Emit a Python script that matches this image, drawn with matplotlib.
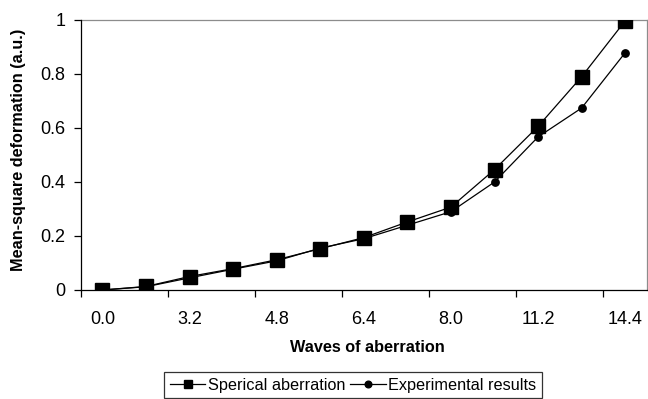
import matplotlib
matplotlib.use("Agg")
import matplotlib.pyplot as plt
import numpy as np

plt.rcParams['font.family'] = ['Liberation Sans', 'DejaVu Sans']

categories = ["0.0", "1.6", "3.2", "4.0", "4.8", "5.6", "6.4", "7.2", "8.0", "9.6", "11.2", "12.8", "14.4"]
spherical = [0.0, 0.013, 0.05, 0.079, 0.112, 0.153, 0.194, 0.252, 0.307, 0.446, 0.606, 0.79, 0.997]
experimental = [0.0, 0.012, 0.045, 0.077, 0.108, 0.155, 0.19, 0.24, 0.29, 0.40, 0.567, 0.674, 0.879]
y_ticks = [0, 0.2, 0.4, 0.6, 0.8, 1]
y_tick_labels = ["0", "0.2", "0.4", "0.6", "0.8", "1"]

W, H = 648, 399
fig = plt.figure(figsize=(W / 100, H / 100), dpi=100)
left, right, top, bottom = 80.6, 647, 20, 290
ax = fig.add_axes([left / W, 1 - bottom / H, (right - left) / W, (bottom - top) / H])

x = np.arange(len(categories))
ax.plot(x, spherical, color='black', lw=0.9, marker='s', ms=9.5, mfc='black', mec='black',
        label='Sperical aberration', zorder=3)
ax.plot(x, experimental, color='black', lw=0.9, marker='o', ms=5.3, mfc='black', mec='black',
        label='Experimental results', zorder=3)

ax.set_xlim(-0.5, len(categories) - 0.5)
ax.set_ylim(0, 1)

# tick marks at category boundaries, labels at every other category
ax.set_xticks(np.arange(-0.5, len(categories) - 1, 2))
ax.set_xticklabels([])
ax.set_xticks(x[::2], minor=True)
ax.set_xticklabels(categories[::2], minor=True)
ax.tick_params(axis='x', which='major', direction='out', length=5, width=0.9, color='black')
ax.tick_params(axis='x', which='minor', length=0, pad=15, labelsize=13)

ax.set_yticks(y_ticks)
ax.set_yticklabels(y_tick_labels)
ax.tick_params(axis='y', direction='out', length=5, width=0.9, pad=6, labelsize=13)

for s in ['left', 'bottom']:
    ax.spines[s].set_color('black')
    ax.spines[s].set_linewidth(0.9)
for s in ['top', 'right']:
    ax.spines[s].set_color('#8c8c8c')
    ax.spines[s].set_linewidth(0.9)
ax.spines['left'].set_zorder(4)
ax.spines['bottom'].set_zorder(4)

fig.text(367 / W, 1 - 348 / H, 'Waves of aberration', ha='center', va='center',
         fontsize=11.7, fontweight='bold')
fig.text(19 / W, 1 - 150 / H, 'Mean-square deformation (a.u.)', ha='center', va='center',
         rotation=90, fontsize=11.7, fontweight='bold')

leg = ax.legend(loc='upper left', bbox_to_anchor=(164 / W, 1 - 372 / H), bbox_transform=fig.transFigure,
                ncol=2, fontsize=11.7, frameon=True, fancybox=False, edgecolor='black',
                handlelength=2.2, handletextpad=0.15, columnspacing=0.3, borderpad=0.35,
                borderaxespad=0)
leg.get_frame().set_linewidth(0.9)
handles = leg.legend_handles
handles[0].set_markersize(6)
handles[1].set_markersize(4.8)

fig.savefig('out.png', dpi=100)
